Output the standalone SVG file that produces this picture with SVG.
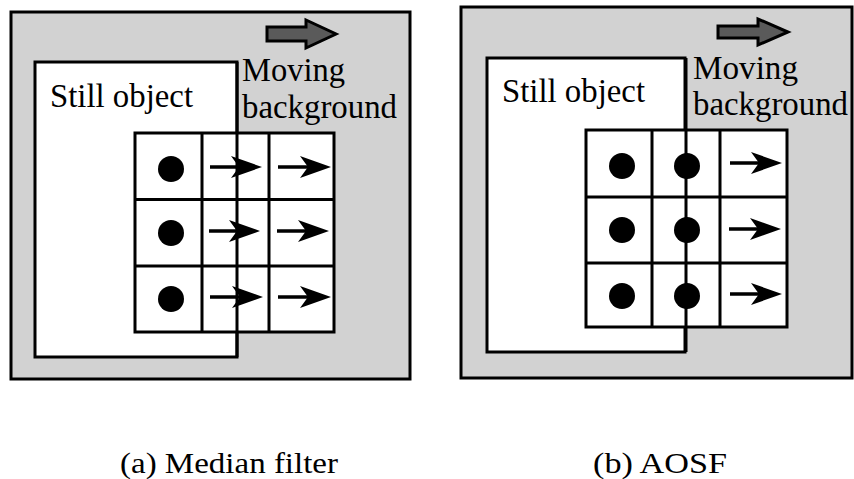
<svg xmlns="http://www.w3.org/2000/svg" width="854" height="479" viewBox="0 0 854 479">
  <style>
    .frame { fill: #d2d2d2; stroke: #000; stroke-width: 3; }
    .object { fill: #fff; stroke: #000; stroke-width: 3; }
    .grid { fill: #fff; stroke: #000; stroke-width: 3; }
    .gridline { stroke: #000; stroke-width: 3; fill: none; }
    .edge { stroke: #000; stroke-width: 3; fill: none; }
    .dot { fill: #000; }
    .shaft { stroke: #000; stroke-width: 3.5; fill: none; }
    .head { fill: #000; }
    .bigarrow { fill: #5a5a5a; stroke: #000; stroke-width: 3; stroke-linejoin: miter; }
    text { font-family: 'Liberation Serif', 'Times New Roman', Times, serif; font-size: 33px; fill: #000; }
    text.caption { font-size: 30px; }
  </style>
  <defs>
    <!-- notched arrowhead with its tip at the origin -->
    <path id="tip" class="head" d="M0,0 L-31,-11 L-23,0 L-31,11 Z"/>
  </defs>

  <!-- (a) Median filter panel -->
  <g id="panel-a">
    <rect class="frame" x="11" y="12" width="399" height="367"/>
    <g id="motion-arrow-a">
      <path class="bigarrow" d="M267,27 H306 V20 L336,34 L306,48 V41 H267 Z"/>
    </g>
    <g id="still-object-a">
      <rect class="object" x="35" y="62" width="202" height="295"/>
      <text x="50" y="107" textLength="143" lengthAdjust="spacingAndGlyphs">Still object</text>
    </g>
    <g id="moving-bg-label-a">
      <text x="242" y="81" textLength="103" lengthAdjust="spacingAndGlyphs">Moving</text>
      <text x="242" y="118" textLength="155" lengthAdjust="spacingAndGlyphs">background</text>
    </g>
    <g id="window-a">
      <rect class="grid" x="135" y="133" width="199" height="199"/>
      <path class="gridline" d="M202,133 V332 M269,133 V332 M135,199.5 H334 M135,266 H334"/>
      <path class="edge" d="M237,62 V357"/>
      <circle class="dot" cx="171" cy="169" r="13"/>
      <circle class="dot" cx="171" cy="233" r="13"/>
      <circle class="dot" cx="171" cy="299" r="13"/>
    </g>
    <g id="connectors-a">
      <path class="shaft" d="M210,167 H245 M209,231 H243 M210,297 H246 M278,167 H313 M277,231 H311 M278,297 H313"/>
      <use href="#tip" x="262" y="167"/>
      <use href="#tip" x="260" y="231"/>
      <use href="#tip" x="263" y="297"/>
      <use href="#tip" x="331" y="167"/>
      <use href="#tip" x="329" y="231"/>
      <use href="#tip" x="331" y="297"/>
    </g>
    <text class="caption" x="120" y="473" textLength="218" lengthAdjust="spacingAndGlyphs">(a) Median filter</text>
  </g>

  <!-- (b) AOSF panel -->
  <g id="panel-b">
    <rect class="frame" x="461" y="7" width="391" height="371"/>
    <g id="motion-arrow-b">
      <path class="bigarrow" d="M718,26 H758 V19 L788,32 L758,45 V38 H718 Z"/>
    </g>
    <g id="still-object-b">
      <rect class="object" x="487" y="58" width="198" height="294"/>
      <text x="502" y="102" textLength="143" lengthAdjust="spacingAndGlyphs">Still object</text>
    </g>
    <g id="moving-bg-label-b">
      <text x="693" y="79" textLength="105" lengthAdjust="spacingAndGlyphs">Moving</text>
      <text x="693" y="115" textLength="155" lengthAdjust="spacingAndGlyphs">background</text>
    </g>
    <g id="window-b">
      <rect class="grid" x="586" y="130" width="201" height="197"/>
      <path class="gridline" d="M652,130 V327 M720,130 V327 M586,197 H787 M586,263 H787"/>
      <path class="edge" d="M686,58 V352"/>
      <circle class="dot" cx="622" cy="166" r="13"/>
      <circle class="dot" cx="622" cy="230" r="13"/>
      <circle class="dot" cx="622" cy="296" r="13"/>
      <circle class="dot" cx="687" cy="166" r="13"/>
      <circle class="dot" cx="687" cy="230" r="13"/>
      <circle class="dot" cx="687" cy="296" r="13"/>
    </g>
    <g id="connectors-b">
      <path class="shaft" d="M730,163 H764 M729,229 H763 M730,294 H764"/>
      <use href="#tip" x="782" y="163"/>
      <use href="#tip" x="781" y="229"/>
      <use href="#tip" x="782" y="294"/>
    </g>
    <text class="caption" x="593" y="473" textLength="134" lengthAdjust="spacingAndGlyphs">(b) AOSF</text>
  </g>
</svg>
